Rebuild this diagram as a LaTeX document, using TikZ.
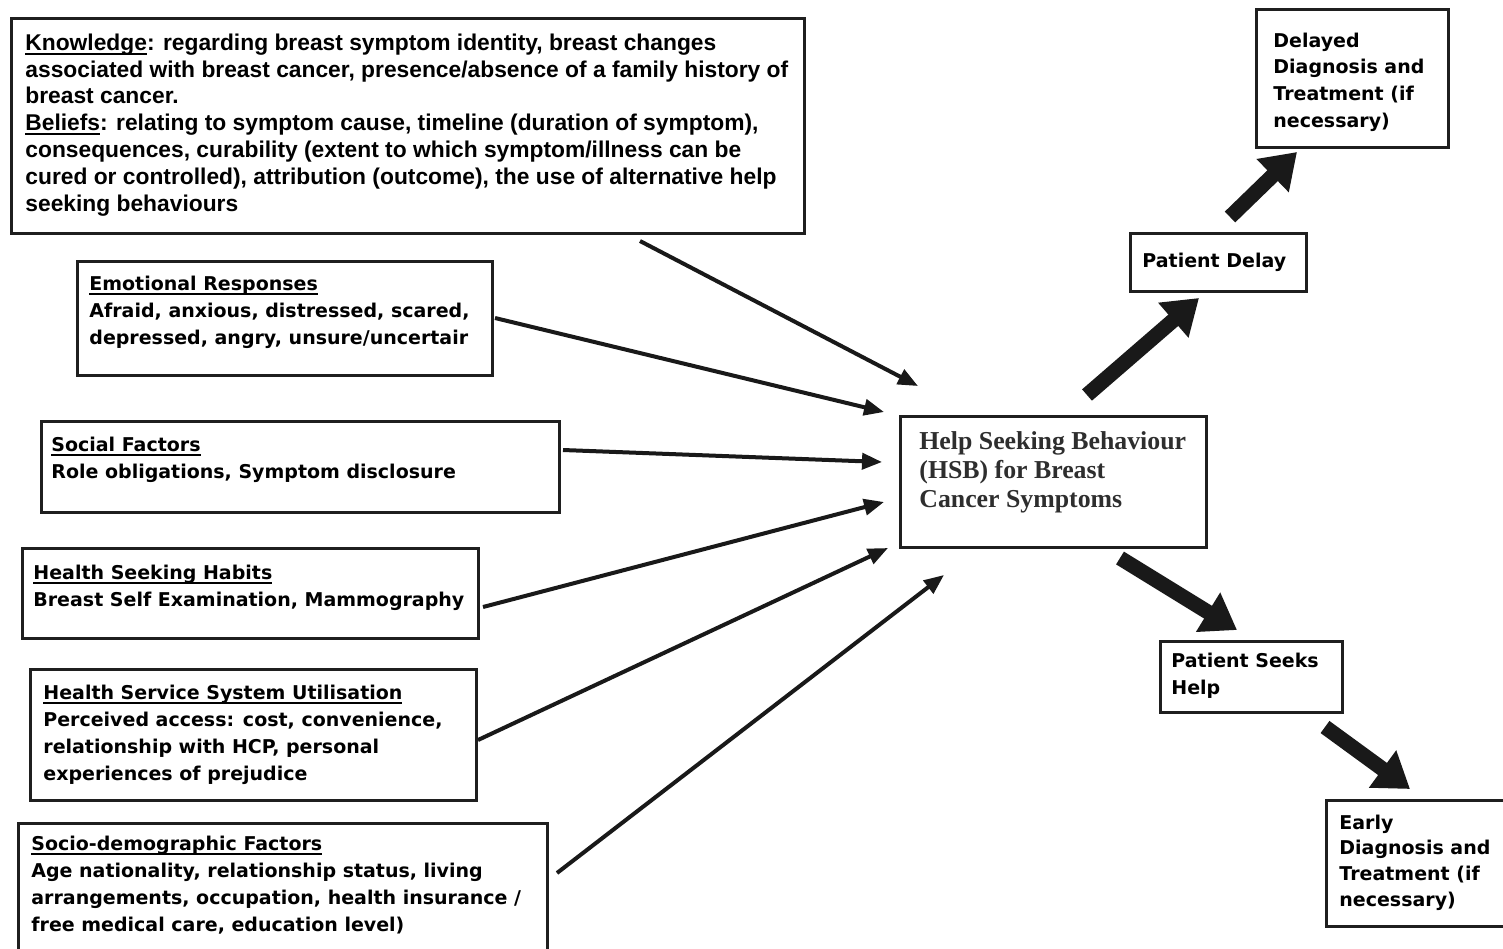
\documentclass[tikz,border=0pt]{standalone}
\usepackage{fontspec}
\usetikzlibrary{arrows.meta}
\newfontfamily\kfont{Liberation Sans}
\newfontfamily\dfont{DejaVu Sans}
\newfontfamily\sfont{Liberation Serif}
\newcommand\ulx[1]{\setbox0\hbox{#1}\rlap{\rule[-2.3pt]{\wd0}{0.9pt}}\box0}
\begin{document}
\begin{tikzpicture}[x=0.5pt,y=-0.5pt,
  box/.style={draw=black!88, line width=1.5pt, anchor=north west, inner sep=0pt},
  ktext/.style={anchor=base west, inner sep=0pt, align=left, font=\kfont\bfseries\fontsize{11.4pt}{13.4pt}\selectfont},
  dtext/.style={anchor=base west, inner sep=0pt, align=left, font=\dfont\bfseries\fontsize{9.5pt}{13.5pt}\selectfont},
  stext/.style={anchor=base west, inner sep=0pt, align=left, text=black!82, font=\sfont\bfseries\fontsize{12.9pt}{14.5pt}\selectfont},
  inarrow/.style={draw=black!90, line width=2pt, -{Triangle[length=10pt,width=8pt]}},
  bigarrow/.style={draw=black!90, line width=7.5pt, -{Triangle[length=17pt,width=22pt]}}]
\useasboundingbox (0,0) rectangle (1503,948);
\fill[white] (0,0) rectangle (1503,948);
% boxes
\node[box, minimum width=396.5pt, minimum height=107.5pt] (kb) at (10,17) {};
\node[box, minimum width=207.5pt, minimum height=57pt] (eb) at (76,260) {};
\node[box, minimum width=259pt, minimum height=45.5pt] (sb) at (40,420) {};
\node[box, minimum width=228pt, minimum height=45pt] (hb) at (21,547) {};
\node[box, minimum width=223pt, minimum height=65.5pt] (ub) at (29,668) {};
\node[box, minimum width=264.5pt, minimum height=65pt] (db) at (17,822) {};
\node[box, minimum width=153pt, minimum height=65.5pt] (hsb) at (899,415) {};
\node[box, minimum width=88pt, minimum height=29pt] (pd) at (1129,232) {};
\node[box, minimum width=96pt, minimum height=69pt] (dd) at (1255,8) {};
\node[box, minimum width=91pt, minimum height=35.5pt] (ps) at (1159,640) {};
\node[box, minimum width=95pt, minimum height=63pt] (ed) at (1325,799) {};
% texts (anchored at the baseline of their last line)
\node[ktext] (kt) at (25,211) {\ulx{Knowledge}: regarding breast symptom identity, breast changes\\
associated with breast cancer, presence/absence of a family history of\\
breast cancer.\\
\ulx{Beliefs}: relating to symptom cause, timeline (duration of symptom),\\
consequences, curability (extent to which symptom/illness can be\\
cured or controlled), attribution (outcome), the use of alternative help\\
seeking behaviours};
\node[dtext] (et) at (89,344) {\ulx{Emotional Responses}\\Afraid, anxious, distressed, scared,\\depressed, angry, unsure/uncertair};
\node[dtext] (st) at (51,478) {\ulx{Social Factors}\\Role obligations, Symptom disclosure};
\node[dtext] (ht) at (33,606) {\ulx{Health Seeking Habits}\\Breast Self Examination, Mammography};
\node[dtext] (ut) at (43,780) {\ulx{Health Service System Utilisation}\\Perceived access: cost, convenience,\\relationship with HCP, personal\\experiences of prejudice};
\node[dtext] (dt) at (31,931) {\ulx{Socio-demographic Factors}\\Age nationality, relationship status, living\\arrangements, occupation, health insurance /\\free medical care, education level)};
\node[stext] (hsbt) at (919,507) {Help Seeking Behaviour\\(HSB) for Breast\\Cancer Symptoms};
\node[dtext] (pdt) at (1142,267) {Patient Delay};
\node[dtext, font=\dfont\bfseries\fontsize{9.5pt}{13.3pt}\selectfont] (ddt) at (1273,127) {Delayed\\Diagnosis and\\Treatment (if\\necessary)};
\node[dtext] (pst) at (1171,694) {Patient Seeks\\Help};
\node[dtext, font=\dfont\bfseries\fontsize{9.5pt}{12.8pt}\selectfont] (edt) at (1339,906) {Early\\Diagnosis and\\Treatment (if\\necessary)};
% connector end points
\coordinate (s1) at (640,241); \coordinate (e1) at (918,386);
\coordinate (s2) at (495,318); \coordinate (e2) at (884,412);
\coordinate (s3) at (563,450); \coordinate (e3) at (882,462);
\coordinate (s4) at (483,607); \coordinate (e4) at (884,502);
\coordinate (s5) at (478,740); \coordinate (e5) at (888,548);
\coordinate (s6) at (557,873); \coordinate (e6) at (944,575);
\coordinate (t1) at (1087,395); \coordinate (u1) at (1199,298);
\coordinate (t2) at (1230,217); \coordinate (u2) at (1297,152);
\coordinate (t3) at (1120,558); \coordinate (u3) at (1237,630);
\coordinate (t4) at (1325,727); \coordinate (u4) at (1410,789);
\draw[inarrow] (s1) -- (e1);
\draw[inarrow] (s2) -- (e2);
\draw[inarrow] (s3) -- (e3);
\draw[inarrow] (s4) -- (e4);
\draw[inarrow] (s5) -- (e5);
\draw[inarrow] (s6) -- (e6);
\draw[bigarrow] (t1) -- (u1);
\draw[bigarrow] (t2) -- (u2);
\draw[bigarrow] (t3) -- (u3);
\draw[bigarrow] (t4) -- (u4);
\end{tikzpicture}
\end{document}
